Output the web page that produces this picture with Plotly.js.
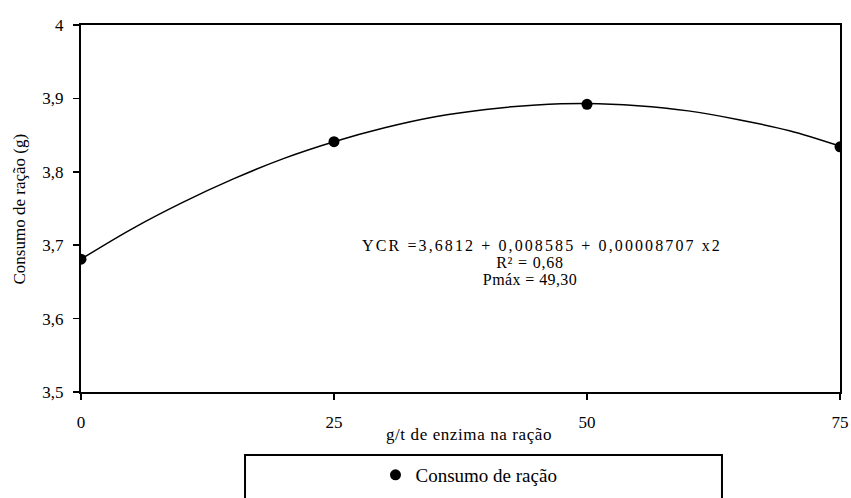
<!DOCTYPE html>
<html>
<head>
<meta charset="utf-8">
<script src="https://cdn.plot.ly/plotly-3.0.1.min.js"></script>
<style>html,body{margin:0;padding:0;background:#fff;}#chart{width:851px;height:498px;}</style>
</head>
<body>
<div id="chart"></div>
<script>
// Observed points (g/t enzyme vs feed intake)
var doseLevels = [0, 25, 50, 75];
var feedIntake = [3.681, 3.841, 3.892, 3.834];

// Fitted curve
var curveX = [0, 5, 10, 15, 20, 25, 30, 35, 40, 45, 50, 55, 60, 65, 70, 75];
var curveY = [3.681, 3.722, 3.758, 3.790, 3.818, 3.841, 3.860, 3.875, 3.885, 3.891, 3.893, 3.890, 3.883, 3.871, 3.856, 3.835];

var yTickVals = [3.5, 3.6, 3.7, 3.8, 3.9, 4];
var yTickText = ["3,5", "3,6", "3,7", "3,8", "3,9", "4"];
var xTickVals = [0, 25, 50, 75];
var xTickText = ["0", "25", "50", "75"];

var equationLines = ["YCR =3,6812 + 0,008585 + 0,00008707 x2", "R² = 0,68", "Pmáx = 49,30"];
var seriesName = "Consumo de ração";
var xTitle = "g/t de enzima na ração";
var yTitle = "Consumo de ração (g)";

var FONT = "Times New Roman";

var traces = [
  {x: curveX, y: curveY, mode: "lines", line: {color: "#000", width: 1.5, shape: "spline"}, showlegend: false, hoverinfo: "skip"},
  {x: doseLevels, y: feedIntake, mode: "markers", name: seriesName, marker: {color: "#000", size: 11}}
];

var layout = {
  width: 851, height: 498,
  margin: {l: 81, r: 11, t: 25, b: 106, autoexpand: false},
  paper_bgcolor: "#fff", plot_bgcolor: "#fff",
  font: {family: FONT, size: 17, color: "#000"},
  xaxis: {range: [0, 75], tickvals: xTickVals, ticktext: xTickText, ticks: "outside", ticklen: 6, tickwidth: 1.5, tickcolor: "#000",
          showline: true, linecolor: "#000", linewidth: 2, mirror: true, showgrid: false, zeroline: false, ticklabelstandoff: 8,
          tickfont: {family: FONT, size: 17}, automargin: false},
  yaxis: {range: [3.5, 4], tickvals: yTickVals, ticktext: yTickText, ticks: "outside", ticklen: 6, tickwidth: 1.5, tickcolor: "#000",
          showline: true, linecolor: "#000", linewidth: 2, mirror: true, showgrid: false, zeroline: false, ticklabelstandoff: 6,
          tickfont: {family: FONT, size: 17}, automargin: false},
  showlegend: true,
  legend: {orientation: "h", x: 0.388, y: -0.226, xanchor: "left", yanchor: "middle", bgcolor: "rgba(0,0,0,0)", borderwidth: 0,
           font: {family: FONT, size: 19}, itemwidth: 30},
  shapes: [
    {type: "rect", xref: "paper", yref: "paper", x0: 0.2161, x1: 0.8445, y0: -0.1717, y1: -0.30, line: {color: "#000", width: 2}, fillcolor: "rgba(0,0,0,0)"}
  ],
  annotations: [
    {text: xTitle, xref: "x", yref: "paper", x: 38.3, y: -0.117, width: 200, showarrow: false, xanchor: "center", yanchor: "middle", font: {family: FONT, size: 17}},
    {text: yTitle, xref: "paper", yref: "paper", x: -0.0804, y: 0.5, textangle: -90, showarrow: false, xanchor: "center", yanchor: "middle", font: {family: FONT, size: 17}},
    {text: equationLines[0], xref: "x", yref: "y", x: 45.6, y: 3.700, width: 390, height: 17, showarrow: false, xanchor: "center", yanchor: "middle", font: {family: FONT, size: 16}},
    {text: equationLines[1], xref: "x", yref: "y", x: 44.4, y: 3.677, width: 90, height: 17, showarrow: false, xanchor: "center", yanchor: "middle", font: {family: FONT, size: 16}},
    {text: equationLines[2], xref: "x", yref: "y", x: 44.4, y: 3.653, width: 110, height: 17, showarrow: false, xanchor: "center", yanchor: "middle", font: {family: FONT, size: 16}}
  ]
};

Plotly.newPlot("chart", traces, layout, {displayModeBar: false, staticPlot: true}).then(function (gd) {
  // reproduce the wide letter spacing of the original text
  var anns = gd.querySelectorAll(".annotation text");
  if (anns[0]) anns[0].style.letterSpacing = "0.6px";
  if (anns[2]) anns[2].style.letterSpacing = "2.1px";
  if (anns[3]) anns[3].style.letterSpacing = "0.8px";
  if (anns[4]) anns[4].style.letterSpacing = "0.4px";
});
</script>
</body>
</html>
